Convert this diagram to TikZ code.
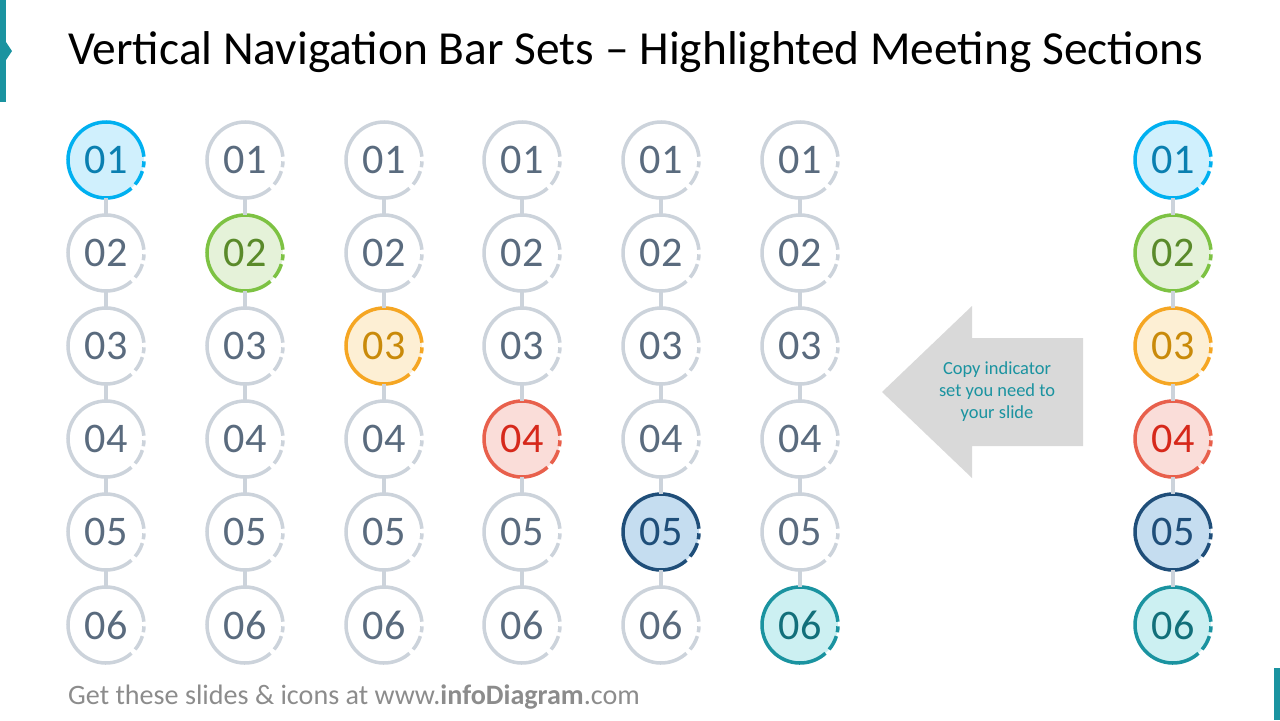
\documentclass[tikz,border=0pt]{standalone}
\usepackage{fontspec}
\setmainfont{Carlito}
\usetikzlibrary{positioning}
\definecolor{ring}{HTML}{CCD3DB}
\definecolor{numgray}{HTML}{5A6B7E}
\definecolor{accent}{HTML}{1A93A0}
\definecolor{c1}{HTML}{00B0F0}\definecolor{f1}{HTML}{D0F0FD}\definecolor{t1}{HTML}{0A7FB0}
\definecolor{c2}{HTML}{7DC243}\definecolor{f2}{HTML}{E5F2D9}\definecolor{t2}{HTML}{5A8A2A}
\definecolor{c3}{HTML}{F5A623}\definecolor{f3}{HTML}{FDEFD4}\definecolor{t3}{HTML}{C98A0A}
\definecolor{c4}{HTML}{E8604C}\definecolor{f4}{HTML}{FADDD9}\definecolor{t4}{HTML}{D6281B}
\definecolor{c5}{HTML}{1F4E79}\definecolor{f5}{HTML}{C5DDF0}\definecolor{t5}{HTML}{1F4E79}
\definecolor{c6}{HTML}{1A93A0}\definecolor{f6}{HTML}{CCF0F2}\definecolor{t6}{HTML}{126F7A}
% one ring of the bar: name, centre, ring colour, fill, text colour, label
\newcommand{\navring}[7]{%
  \node[dot, fill=#4, text=#5] (#1) at (#2) {#7};
  \draw[ringline, draw=#3] (#1.center) ++(-5:38) arc[start angle=-5, end angle=-312, radius=38];
  \draw[ringline, draw=#3] (#1.center) ++(-320:38) arc[start angle=-320, end angle=-343, radius=38];
  \draw[ringline, draw=#3] (#1.center) ++(-349:38) arc[start angle=-349, end angle=-358, radius=38];
}
\begin{document}
\begin{tikzpicture}[x=0.02cm, y=-0.02cm,
  dot/.style={circle, minimum size=76*0.02cm, inner sep=0pt, font=\fontsize{24pt}{26pt}\selectfont},
  ringline/.style={line width=2pt},
  link/.style={draw=ring, line width=2.2pt},
  arrowbox/.style={fill=black!15, draw=none}
]
\useasboundingbox (0,0) rectangle (1280,720);
% accent bars
\fill[accent] (0,0) rectangle (6,102);
\fill[accent] (6,42) -- (12,51) -- (6,60) -- cycle;
\fill[accent] (1274,668) rectangle (1280,720);
\node[anchor=west, font=\fontsize{27pt}{30pt}\selectfont] (title) at (62,52)
  {Vertical Navigation Bar Sets – Highlighted Meeting Sections};
% six bars, one highlighted ring each
\foreach \col/\x in {1/106,2/245,3/384,4/522,5/661,6/800}{
  \foreach \row/\y in {1/160,2/253,3/346,4/439,5/532,6/625}{
    \ifnum\col=\row
      \navring{c-\col-\row}{\x,\y}{c\row}{f\row}{t\row}{}{0\row}
    \else
      \navring{c-\col-\row}{\x,\y}{ring}{white}{numgray}{}{0\row}
    \fi
  }
  \foreach \row [evaluate=\row as \nxt using int(\row+1)] in {1,...,5}
    \draw[link] (c-\col-\row) -- (c-\col-\nxt);
}
% full set on the right
\foreach \row/\y in {1/160,2/253,3/346,4/439,5/532,6/625}
  \navring{r-\row}{1173,\y}{c\row}{f\row}{t\row}{}{0\row};
\foreach \row [evaluate=\row as \nxt using int(\row+1)] in {1,...,5}
  \draw[link] (r-\row) -- (r-\nxt);
% copy arrow
\fill[arrowbox] (882,392) -- (972,306) -- (972,338) -- (1083,338) -- (1083,446)
  -- (972,446) -- (972,478) -- cycle;
\node[align=center, text=accent, font=\fontsize{10.5pt}{12.5pt}\selectfont] (hint) at (997,392)
  {Copy indicator\\set you need to\\your slide};
% footer
\node[anchor=west, text=black!45, font=\fontsize{16pt}{18pt}\selectfont] (foot) at (62,697)
  {Get these slides \& icons at www.\textbf{infoDiagram}.com};
\end{tikzpicture}
\end{document}
